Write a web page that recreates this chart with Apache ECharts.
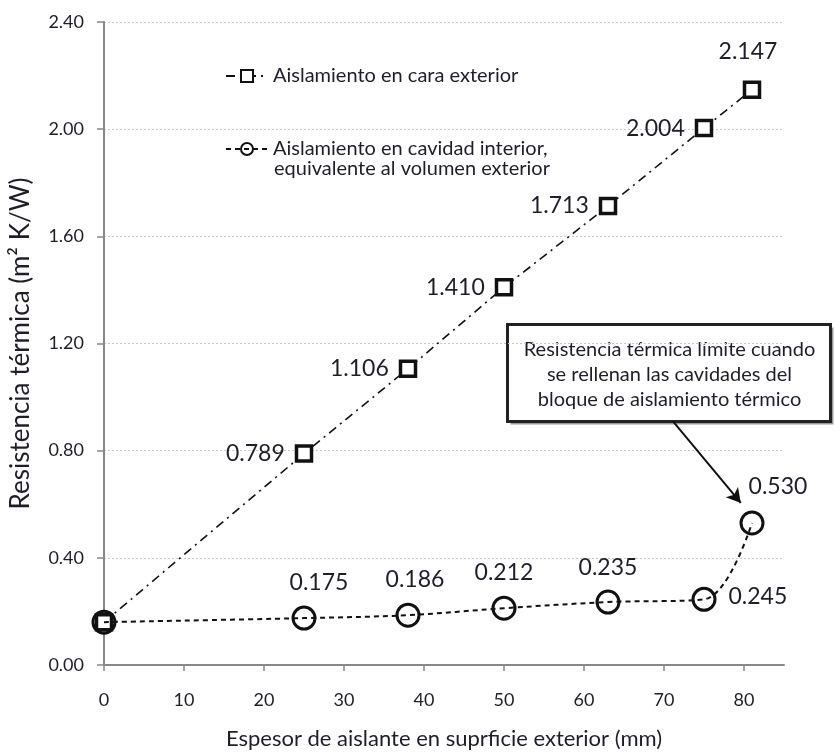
<!DOCTYPE html>
<html><head><meta charset="utf-8">
<script src="https://cdn.jsdelivr.net/npm/echarts@6/dist/echarts.min.js"></script>
<style>html,body{margin:0;padding:0;background:#fff}#c{width:834px;height:755px}</style>
</head><body><div id="c"></div>
<script>
// ---- data ----
const exteriorX = [0, 25, 38, 50, 63, 75, 81];
const exteriorR = [0.16, 0.789, 1.106, 1.410, 1.713, 2.004, 2.147];
const cavityX = [0, 25, 38, 50, 63, 75, 81];
const cavityR = [0.16, 0.175, 0.186, 0.212, 0.235, 0.245, 0.530];
const xTickValues = [0, 10, 20, 30, 40, 50, 60, 70, 80];
const seriesNames = ['Aislamiento en cara exterior', 'Aislamiento en cavidad interior,'];
const legendSecondLine = 'equivalente al volumen exterior';
const annotationText = 'Resistencia térmica límite cuando\nse rellenan las cavidades del\nbloque de aislamiento térmico';
const arrowFrom = [71.1, 0.91];
const arrowTo = [79.6, 0.605];

// ---- label placement (style) ----
const extLabel = [
  {show: false},
  {position: 'left', distance: 10},
  {position: 'left', distance: 10},
  {position: 'left', distance: 10},
  {position: 'left', distance: 10},
  {position: 'left', distance: 10},
  {position: 'top', distance: 17, offset: [-4, 0]}
];
const cavLabel = [
  {show: false},
  {position: 'top', distance: 12, offset: [15, 0]},
  {position: 'top', distance: 12, offset: [7, 0]},
  {position: 'top', distance: 12, offset: [0, 0]},
  {position: 'top', distance: 10, offset: [0, 0]},
  {position: 'right', distance: 12, offset: [0, -3]},
  {position: 'top', distance: 12, offset: [26, 0]}
];

const FONT = 'Lato';
const TXT = '#1e1e28';
const chart = echarts.init(document.getElementById('c'), null, {renderer: 'canvas'});

function build(xs, ys, labels) {
  return xs.map((x, i) => ({value: [x, ys[i]], label: labels[i]}));
}

const option = {
  backgroundColor: '#fff',
  animation: false,
  textStyle: {fontFamily: FONT},
  grid: {left: 104, right: 50, top: 22, bottom: 89, containLabel: false},
  legend: [
    {
      data: [seriesNames[0]], left: 220, top: 61, orient: 'vertical',
      itemWidth: 42, itemHeight: 15, itemGap: 10,
      textStyle: {fontFamily: FONT, fontSize: 20, color: TXT}, selectedMode: false
    },
    {
      data: [seriesNames[1]], left: 220, top: 134, orient: 'vertical',
      itemWidth: 42, itemHeight: 15, itemGap: 10,
      textStyle: {fontFamily: FONT, fontSize: 20, color: TXT}, selectedMode: false
    }
  ],
  xAxis: {
    type: 'value', min: 0, max: 85, interval: 10,
    name: 'Espesor de aislante en suprficie exterior (mm)',
    nameLocation: 'middle', nameGap: 63,
    nameTextStyle: {fontFamily: FONT, fontSize: 22, color: TXT},
    axisLine: {show: true, lineStyle: {color: '#888', width: 2}},
    axisTick: {show: true, length: 6, lineStyle: {color: '#888', width: 1.5}, customValues: xTickValues},
    axisLabel: {fontFamily: FONT, fontSize: 18, color: TXT, margin: 26, customValues: xTickValues},
    splitLine: {show: false}
  },
  yAxis: {
    type: 'value', min: 0, max: 2.4, interval: 0.4,
    name: 'Resistencia térmica (m² K/W)',
    nameLocation: 'middle', nameGap: 70, nameRotate: 90,
    nameTextStyle: {fontFamily: FONT, fontSize: 26, color: TXT},
    axisLine: {show: true, onZero: false, lineStyle: {color: '#888', width: 2}},
    axisTick: {show: true, length: 7, lineStyle: {color: '#888', width: 1.5}},
    axisLabel: {fontFamily: FONT, fontSize: 18, color: TXT, margin: 20,
      formatter: v => v.toFixed(2)},
    splitLine: {show: true, lineStyle: {color: '#c8c8c8', type: [2, 2], width: 1}}
  },
  series: [
    {
      name: seriesNames[0], type: 'line',
      data: build(exteriorX, exteriorR, extLabel),
      symbol: 'rect', symbolSize: 15,
      itemStyle: {color: '#fff', borderColor: '#111', borderWidth: 3.5},
      lineStyle: {color: '#111', width: 1.6, type: [9, 5, 2, 5]},
      label: {show: true, fontFamily: FONT, fontSize: 23, color: TXT,
        formatter: p => p.value[1].toFixed(3)},
      z: 3
    },
    {
      name: seriesNames[1], type: 'line',
      data: build(cavityX, cavityR, cavLabel),
      symbol: 'circle', symbolSize: 22, smooth: 0.35,
      itemStyle: {color: 'rgba(255,255,255,0)', borderColor: '#111', borderWidth: 3},
      lineStyle: {color: '#111', width: 2, type: [5, 4]},
      label: {show: true, fontFamily: FONT, fontSize: 23, color: TXT,
        formatter: p => p.value[1].toFixed(3)},
      markLine: {
        silent: true, symbol: ['none', 'arrow'], symbolSize: [12, 14],
        label: {show: false},
        lineStyle: {color: '#111', width: 2, type: 'solid'},
        data: [[{coord: arrowFrom}, {coord: arrowTo}]]
      },
      z: 4
    }
  ],
  graphic: [
    {
      type: 'text', left: 274, top: 159,
      style: {text: legendSecondLine, font: '20px ' + FONT, fill: TXT}
    },
    {
      type: 'group', left: 506, top: 323,
      children: [
        {type: 'rect', shape: {x: 3, y: 3, width: 323, height: 97}, style: {fill: '#999'}},
        {type: 'rect', shape: {x: 0, y: 0, width: 323, height: 97},
          style: {fill: '#fff', stroke: '#222', lineWidth: 3}},
        {type: 'text', x: 162, y: 50,
          style: {text: annotationText, font: '20px ' + FONT, fill: TXT,
            align: 'center', verticalAlign: 'middle', lineHeight: 25}}
      ]
    }
  ]
};
chart.setOption(option);
</script>
</body></html>
